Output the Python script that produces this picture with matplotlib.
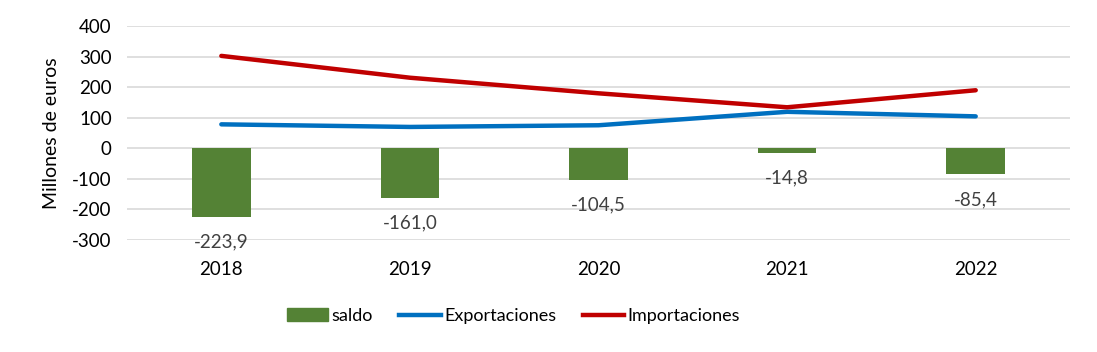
import matplotlib
matplotlib.use("Agg")
import matplotlib.pyplot as plt
from matplotlib.patches import Patch
from matplotlib.lines import Line2D

GREEN, BLUE, RED, GRID, LABEL = "#548235", "#0070C0", "#C00000", "#D9D9D9", "#404040"

years = ["2018", "2019", "2020", "2021", "2022"]
saldo = [-223.9, -161.0, -104.5, -14.8, -85.4]
exportaciones = [78.5, 70.0, 75.5, 119.5, 104.6]
importaciones = [302.4, 231.0, 180.0, 134.3, 190.0]

plt.rcParams["font.family"] = ["Lato", "DejaVu Sans"]
plt.rcParams["axes.unicode_minus"] = False

fig = plt.figure(figsize=(10.97, 3.52), dpi=100)
ax = fig.add_axes([0.1158, 0.318, 0.8596, 0.608])

x = range(len(years))
ax.bar(x, saldo, width=0.31, color=GREEN, zorder=2)
ax.plot(x, exportaciones, color=BLUE, lw=3.2, solid_capstyle="round", zorder=3)
ax.plot(x, importaciones, color=RED, lw=3.2, solid_capstyle="round", zorder=3)

for i, v in enumerate(saldo):
    ax.annotate(f"{v:.1f}".replace(".", ","), (i, v), xytext=(0, -18),
                textcoords="offset points", ha="center", va="center",
                fontsize=13.5, color=LABEL)

ax.set_xlim(-0.5, len(years) - 0.5)
ax.set_ylim(-300, 400)
ax.set_yticks(range(-300, 401, 100))
ax.set_xticks(list(x), years)
ax.tick_params(length=0, labelsize=13.5, colors="#000000")
ax.tick_params(axis="x", pad=15)
ax.tick_params(axis="y", pad=11)
ax.yaxis.grid(True, color=GRID, lw=1.2)
ax.set_axisbelow(True)
for s in ax.spines.values():
    s.set_visible(False)
ax.set_ylabel("Millones de euros", fontsize=14, labelpad=9)

handles = [Patch(color=GREEN, label="saldo"),
           Line2D([], [], color=BLUE, lw=3.2, label="Exportaciones"),
           Line2D([], [], color=RED, lw=3.2, label="Importaciones")]
fig.legend(handles=handles, loc="center", bbox_to_anchor=(0.468, 0.102),
           ncol=3, frameon=False, fontsize=13, handlelength=2.3,
           handletextpad=0.2, columnspacing=1.45)

fig.savefig("out.png", dpi=100, facecolor="white")
